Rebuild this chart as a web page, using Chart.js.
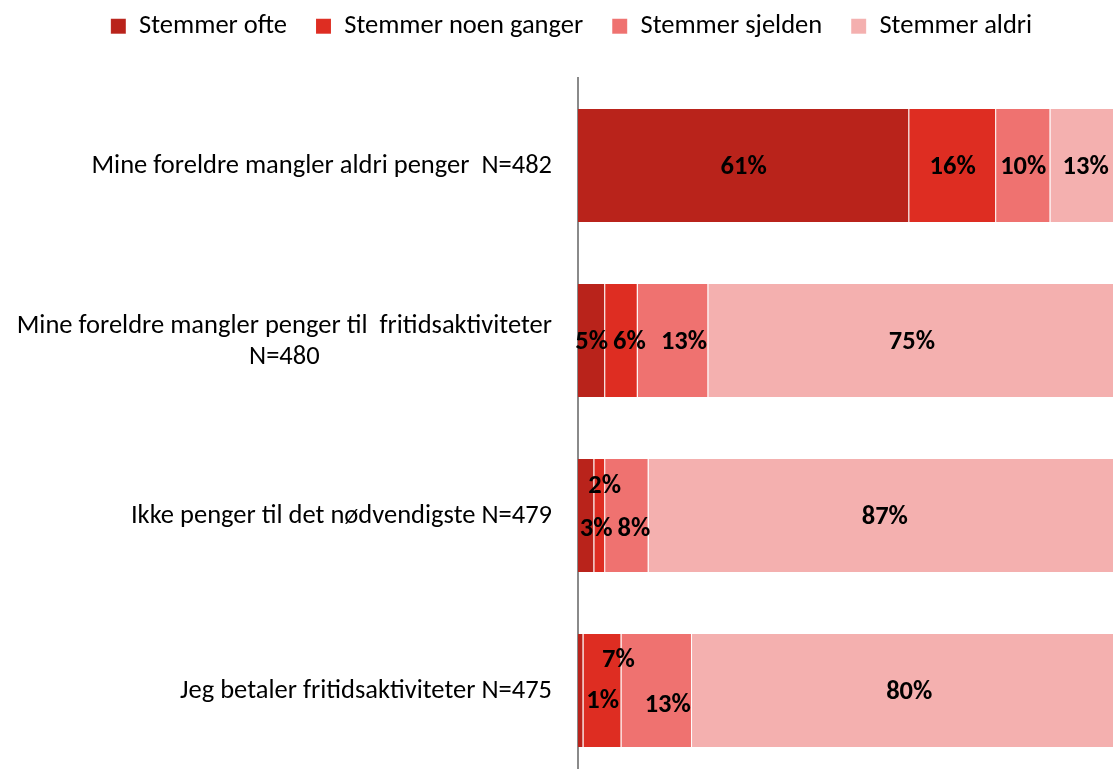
<!DOCTYPE html>
<html>
<head>
<meta charset="utf-8">
<script src="https://cdn.jsdelivr.net/npm/chart.js@4"></script>
<style>
  html, body { margin: 0; padding: 0; overflow: hidden; background: #fff; }
  #wrap { position: absolute; left: 0; top: 0; width: 1121px; height: 778px; }
</style>
</head>
<body>
<div id="wrap"><canvas id="chart"></canvas></div>
<script>
const categories = [
  ["Mine foreldre mangler aldri penger  N=482"],
  ["Mine foreldre mangler penger til  fritidsaktiviteter", "N=480"],
  ["Ikke penger til det nødvendigste N=479"],
  ["Jeg betaler fritidsaktiviteter N=475"]
];
const seriesNames = ["Stemmer ofte", "Stemmer noen ganger", "Stemmer sjelden", "Stemmer aldri"];
const ofte = [61, 5, 3, 1];
const noenGanger = [16, 6, 2, 7];
const sjelden = [10, 13, 8, 13];
const aldri = [13, 75, 87, 80];

const colors = ["#B9231B", "#DE2D22", "#EF7270", "#F4B0AF"];
const FONT = "Carlito, Lato, 'Open Sans', sans-serif";
const SIZE = 26.5;

// hand-placed label nudges, as in the original
const labelNudge = {
  "1-1": [8, 0], "2-1": [11, 0],
  "0-2": [10, 12], "1-2": [5, -31], "2-2": [7, 12],
  "0-3": [22, 9], "1-3": [16, -32], "2-3": [11, 13]
};

const barLabels = {
  id: "barLabels",
  afterDatasetsDraw(chart) {
    const ctx = chart.ctx;
    ctx.save();
    ctx.font = "bold " + SIZE + "px " + FONT;
    ctx.fillStyle = "#000";
    ctx.textAlign = "center";
    ctx.textBaseline = "middle";
    chart.data.datasets.forEach((ds, di) => {
      chart.getDatasetMeta(di).data.forEach((el, i) => {
        const n = labelNudge[di + "-" + i] || [0, 0];
        const x = (el.x + el.base) / 2 + n[0];
        ctx.fillText(ds.data[i] + "%", x, el.y + 2 + n[1]);
      });
    });
    ctx.restore();
  }
};

const catLabels = {
  id: "catLabels",
  afterDraw(chart) {
    const ctx = chart.ctx;
    const y = chart.scales.y;
    const right = 552, lh = 31;
    ctx.save();
    ctx.font = SIZE + "px " + FONT;
    ctx.fillStyle = "#000";
    ctx.textBaseline = "middle";
    ctx.textAlign = "center";
    categories.forEach((lines, i) => {
      const cy = y.getPixelForValue(i);
      const widest = Math.max(...lines.map(l => ctx.measureText(l).width));
      const mid = right - widest / 2;
      lines.forEach((l, k) => {
        ctx.fillText(l, mid, cy + (k - (lines.length - 1) / 2) * lh + 1);
      });
    });
    ctx.restore();
  }
};

new Chart(document.getElementById("chart"), {
  type: "bar",
  data: {
    labels: categories.map(c => c.join(" ")),
    datasets: [ofte, noenGanger, sjelden, aldri].map((d, i) => ({
      label: seriesNames[i],
      data: d,
      backgroundColor: colors[i],
      borderColor: "rgba(255,255,255,0.35)",
      borderWidth: { left: 0, top: 0, bottom: 0, right: 1 },
      borderSkipped: false,
      categoryPercentage: 1,
      barPercentage: 0.646
    }))
  },
  options: {
    indexAxis: "y",
    responsive: true,
    maintainAspectRatio: false,
    animation: false,
    layout: { padding: { top: -16, left: 22, right: 0, bottom: 0 } },
    plugins: {
      legend: {
        position: "top",
        labels: {
          font: { family: FONT, size: SIZE },
          color: "#000",
          boxWidth: 15,
          boxHeight: 15,
          padding: 29
        }
      },
      tooltip: { enabled: false }
    },
    scales: {
      x: {
        position: "top",
        stacked: true,
        min: 0,
        max: 100,
        ticks: { display: false },
        grid: { display: false },
        border: { display: false },
        afterFit: s => { s.height = 28.5; }
      },
      y: {
        stacked: true,
        ticks: { display: false },
        grid: { display: false, drawTicks: false },
        border: { display: true, color: "#8a8a8a", width: 2 },
        afterFit: s => { s.width = 556; }
      }
    }
  },
  plugins: [barLabels, catLabels]
});
</script>
</body>
</html>
